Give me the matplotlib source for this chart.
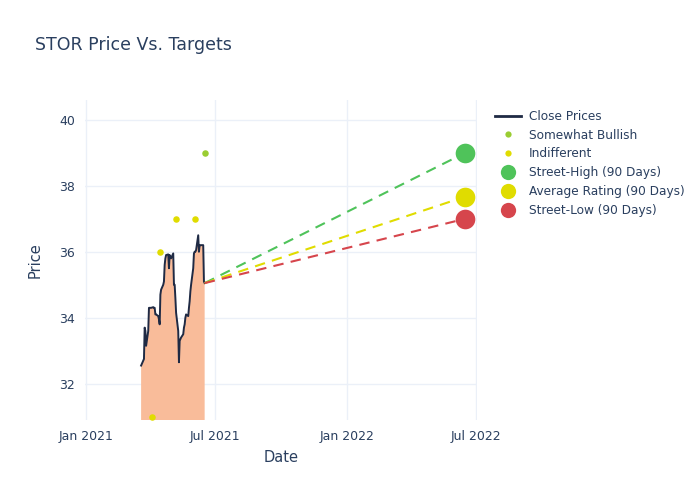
import numpy as np
import pandas as pd
import matplotlib.pyplot as plt
import matplotlib.dates as mdates
from matplotlib.lines import Line2D

# daily close prices (business days 2021-03-19 .. 2021-06-16)
close_dates = pd.bdate_range("2021-03-19", "2021-06-16")
close_prices = [
    32.55, 32.7, 32.75, 33.7, 33.6, 33.15, 33.6, 34.3, 34.3,
    34.3, 34.3, 34.32, 34.3, 34.3, 34.1, 34.1, 34.05, 33.95, 33.8, 34.7, 34.85,
    35.0, 35.1, 35.6, 35.8, 35.9, 35.92, 35.5, 35.9, 35.85, 35.8,
    35.95, 35.0, 35.0, 34.6, 34.15, 33.6, 32.65, 33.3, 33.35, 33.4,
    33.5, 33.7, 33.8, 34.0, 34.1, 34.05, 34.3, 34.5, 34.8, 35.0, 35.5,
    35.95, 36.0, 36.0, 36.05, 36.5, 36.0, 36.2, 36.2, 36.2, 36.2, 35.1, 35.05,
]

# analyst ratings
bullish_dates = pd.to_datetime(["2021-06-16"])
bullish_prices = [39.0]
indiff_dates = pd.to_datetime(["2021-04-03", "2021-04-14", "2021-05-07", "2021-06-02"])
indiff_prices = [31.0, 36.0, 37.0, 37.0]

# 90 day targets
target_date = pd.Timestamp("2022-06-16")
target_names = ["Street-High (90 Days)", "Average Rating (90 Days)", "Street-Low (90 Days)"]
target_prices = [39.0, 37.67, 37.0]
target_colors = ["#4fc35a", "#e0dc00", "#d6454c"]

text_col = "#2a3f5f"
grid_col = "#ebf0f8"

fig = plt.figure(figsize=(7, 5), dpi=100)
ax = fig.add_axes([0.121, 0.16, 0.561, 0.64])

ax.fill_between(close_dates, close_prices, 0, color="#f9bc9a", lw=0, zorder=2)
ax.plot(close_dates, close_prices, color="#1f2a44", lw=1.4, zorder=3)

last_date, last_price = close_dates[-1], close_prices[-1]
for tp, tc in zip(target_prices, target_colors):
    ax.plot([last_date, target_date], [last_price, tp], color=tc, lw=1.5,
            dashes=(5, 3.5), zorder=3)
    ax.scatter([target_date], [tp], s=200, color=tc, zorder=4, lw=0)

ax.scatter(bullish_dates, bullish_prices, s=22, color="#9acd32", zorder=4, lw=0)
ax.scatter(indiff_dates, indiff_prices, s=22, color="#e0dc00", zorder=4, lw=0)

ax.set_xlim(pd.Timestamp("2020-12-30"), pd.Timestamp("2022-07-03"))
ax.set_ylim(30.9, 40.6)
ax.set_yticks([32, 34, 36, 38, 40])
ax.xaxis.set_major_locator(mdates.MonthLocator(bymonth=[1, 7]))
ax.xaxis.set_major_formatter(mdates.DateFormatter("%b %Y"))

ax.grid(True, color=grid_col, lw=1, zorder=0)
ax.set_axisbelow(True)
for s in ax.spines.values():
    s.set_visible(False)
ax.tick_params(length=0, labelsize=9, colors=text_col, pad=7)
ax.set_xlabel("Date", fontsize=10.5, color=text_col, labelpad=5)
ax.set_ylabel("Price", fontsize=10.5, color=text_col, labelpad=12)

fig.text(0.05, 0.91, "STOR Price Vs. Targets", fontsize=12.5, color=text_col,
         va="center")

handles = [
    Line2D([], [], color="#1f2a44", lw=2),
    Line2D([], [], ls="", marker="o", ms=4.5, color="#9acd32", mec="none"),
    Line2D([], [], ls="", marker="o", ms=4.5, color="#e0dc00", mec="none"),
]
labels = ["Close Prices", "Somewhat Bullish", "Indifferent"]
for n, c in zip(target_names, target_colors):
    handles.append(Line2D([], [], ls="", marker="o", ms=11, color=c, mec="none"))
    labels.append(n)
leg = fig.legend(handles, labels, loc="upper left", bbox_to_anchor=(0.7, 0.79),
                 frameon=False, fontsize=8.7, handlelength=2.2, labelspacing=0.48,
                 handletextpad=0.6, borderaxespad=0)
for t in leg.get_texts():
    t.set_color(text_col)

fig.savefig("out.png", dpi=100)
